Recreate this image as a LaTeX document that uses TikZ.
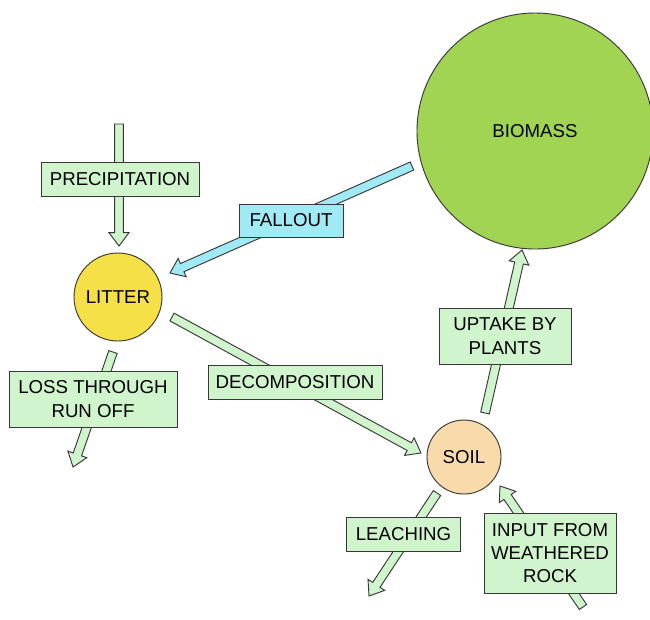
\documentclass[tikz,border=0pt]{standalone}
\usepackage{fontspec}
\setmainfont{Liberation Sans}
\usetikzlibrary{calc}

\definecolor{edgegray}{RGB}{55,55,55}
\definecolor{flowgreen}{RGB}{208,244,204}
\definecolor{flowblue}{RGB}{160,234,246}
\definecolor{biomassgreen}{RGB}{160,212,82}
\definecolor{litteryellow}{RGB}{246,224,72}
\definecolor{soiltan}{RGB}{249,218,170}

% wide outlined arrow from tail #2 to tip #3, filled with #1
\newcommand\fatflow[3]{%
  \coordinate (hb) at ($(#3)!10pt!(#2)$);
  \draw[flowedge, fill=#1]
    ($(#2)!3.3pt!90:(#3)$) -- ($(hb)!3.3pt!90:(#3)$) -- ($(hb)!7.5pt!90:(#3)$)
    -- (#3)
    -- ($(hb)!7.5pt!-90:(#3)$) -- ($(hb)!3.3pt!-90:(#3)$) -- ($(#2)!3.3pt!-90:(#3)$)
    -- cycle;}

\begin{document}
\begin{tikzpicture}[x=0.75pt,y=-0.75pt,
  flowedge/.style={draw=edgegray, line width=0.7pt, line join=miter},
  pool/.style={circle, draw=edgegray, line width=0.7pt, inner sep=0pt,
    font=\fontsize{14}{17}\selectfont},
  tag/.style={rectangle, draw=edgegray, line width=0.7pt, fill=flowgreen,
    inner sep=0pt, align=center, font=\fontsize{14}{17.5}\selectfont},
]
\useasboundingbox (0,0) rectangle (650,619);

% stores
\node[pool, fill=biomassgreen, minimum size=177pt] (biomass) at (535,131) {BIOMASS};
\node[pool, fill=litteryellow, minimum size=66pt] (litter) at (118,297) {LITTER};
\node[pool, fill=soiltan, minimum size=55.5pt] (soil) at (464,457) {SOIL};

% flow end points
\coordinate (precipA) at (119,124);
\coordinate (precipB) at (119,246);
\coordinate (falloutA) at (412,166);
\coordinate (falloutB) at (170,273);
\coordinate (decompA) at (172,317);
\coordinate (decompB) at (421,453);
\coordinate (runoffA) at (113,352);
\coordinate (runoffB) at (73,467);
\coordinate (uptakeA) at (485,413);
\coordinate (uptakeB) at (522,250);
\coordinate (leachA) at (437,493);
\coordinate (leachB) at (369,596);
\coordinate (rockA) at (583,607);
\coordinate (rockB) at (500,486);

% flows
\fatflow{flowgreen}{precipA}{precipB}
\fatflow{flowblue}{falloutA}{falloutB}
\fatflow{flowgreen}{decompA}{decompB}
\fatflow{flowgreen}{runoffA}{runoffB}
\fatflow{flowgreen}{uptakeA}{uptakeB}
\fatflow{flowgreen}{leachA}{leachB}
\fatflow{flowgreen}{rockA}{rockB}

% flow labels
\node[tag, minimum width=118.5pt, minimum height=25.5pt] (precip) at (120,179.5) {PRECIPITATION};
\node[tag, fill=flowblue, minimum width=78pt, minimum height=24.75pt] (fallout) at (291,220.5) {FALLOUT};
\node[tag, minimum width=130.5pt, minimum height=25.5pt] (decomp) at (295,382) {DECOMPOSITION};
\node[tag, minimum width=126pt, minimum height=42pt] (runoff) at (93,399) {LOSS THROUGH\\RUN OFF};
\node[tag, minimum width=99pt, minimum height=42pt] (uptake) at (505,336) {UPTAKE BY\\PLANTS};
\node[tag, minimum width=86pt, minimum height=25.5pt] (leach) at (403.5,534) {LEACHING};
\node[tag, minimum width=99pt, minimum height=60pt] (rock) at (550,553) {INPUT FROM\\WEATHERED\\ROCK};
\end{tikzpicture}
\end{document}
